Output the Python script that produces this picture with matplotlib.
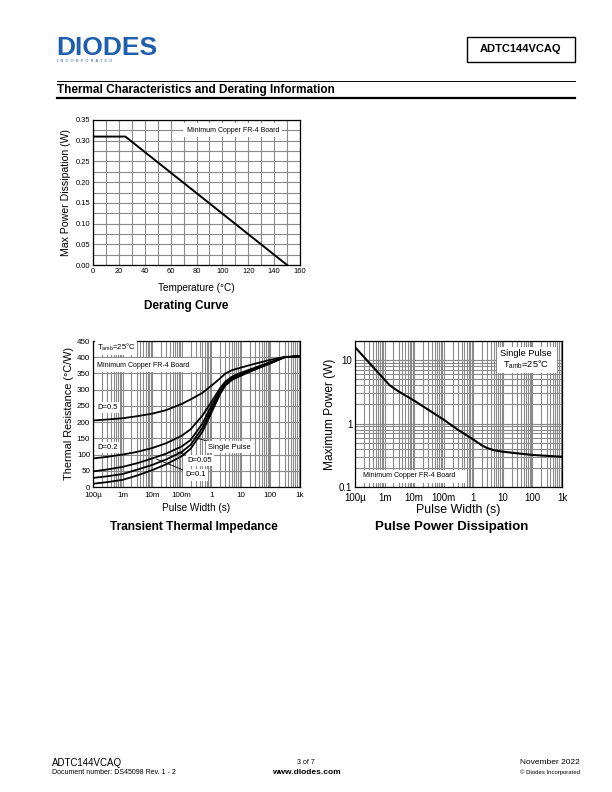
import matplotlib
matplotlib.use('Agg')
import matplotlib.pyplot as plt
import matplotlib.ticker as mticker
from matplotlib.patches import Rectangle
from matplotlib.lines import Line2D

plt.rcParams['font.family'] = ['Liberation Sans', 'DejaVu Sans']
plt.rcParams['mathtext.fontset'] = 'custom'
plt.rcParams['mathtext.rm'] = 'Liberation Sans'

# Datos: curva de derating
temp_c = [0, 25, 150]
pmax_w = [0.31, 0.31, 0.0]

# Datos: impedancia termica transitoria
t_pulse = [1e-4, 3e-4, 1e-3, 3e-3, 1e-2, 3e-2, 0.1, 0.2, 0.5, 1, 2, 3, 5, 10, 30, 100, 300, 1000]
r_d05 = [205, 208, 212, 218, 226, 237, 256, 270, 290, 312, 335, 350, 360, 368, 380, 392, 401, 403]
r_d02 = [88, 93, 100, 108, 120, 135, 158, 178, 220, 262, 305, 325, 340, 352, 368, 385, 400, 403]
r_d01 = [48, 54, 62, 73, 88, 103, 125, 145, 195, 250, 298, 320, 335, 348, 365, 383, 400, 403]
r_d005 = [28, 33, 40, 53, 68, 85, 108, 130, 182, 238, 292, 316, 332, 345, 363, 382, 400, 403]
r_single = [10, 15, 22, 35, 52, 70, 95, 118, 170, 228, 287, 313, 330, 343, 362, 381, 400, 403]

# Datos: disipacion de potencia de pulso
t_pp = [1e-4, 3e-4, 1e-3, 1.5e-3, 3e-3, 1e-2, 3e-2, 0.1, 0.3, 1, 2, 3, 5, 10, 30, 100, 300, 1000]
p_pp = [16, 9.1, 4.9, 4.0, 3.2, 2.3, 1.65, 1.15, 0.8, 0.56, 0.45, 0.41, 0.38, 0.36, 0.34, 0.32, 0.31, 0.30]

log_ticks = [1e-4, 1e-3, 1e-2, 1e-1, 1, 10, 100, 1000]
log_labels = ['100µ', '1m', '10m', '100m', '1', '10', '100', '1k']

W, H = 612, 792
fig = plt.figure(figsize=(W / 100, H / 100), dpi=100)


def box(l, t, r, b):
    return [l / W, 1 - b / H, (r - l) / W, (b - t) / H]


def ftext(x, y, s, **kw):
    fig.text(x / W, 1 - y / H, s, **kw)


GRID = '#8a8a8a'
white = dict(facecolor='white', edgecolor='none', pad=1.5)


def style(ax, fs, xpad=2):
    ax.tick_params(which='both', length=0, labelsize=fs, pad=2)
    ax.tick_params(axis='x', pad=xpad)
    for s in ax.spines.values():
        s.set_linewidth(0.9)
    ax.set_axisbelow(True)


# ---------- Encabezado ----------
ftext(56, 55, 'DIODES', fontsize=19, fontweight='bold', color='#1f5fad', va='baseline')
ftext(57, 60.5, 'I  N  C  O  R  P  O  R  A  T  E  D', fontsize=2.8, color='#1f5fad', va='center')
fig.patches.append(Rectangle((467 / W, 1 - 62 / H), 108 / W, 25 / H, transform=fig.transFigure,
                             fill=False, lw=1.0, edgecolor='black'))
ftext(521, 49.5, 'ADTC144VCAQ', fontsize=8, fontweight='bold', ha='center', va='center')
fig.lines.append(Line2D([57 / W, 575 / W], [1 - 81 / H] * 2, transform=fig.transFigure, color='black', lw=0.7))
fig.lines.append(Line2D([57 / W, 575 / W], [1 - 98 / H] * 2, transform=fig.transFigure, color='black', lw=1.6))
ftext(57, 90, 'Thermal Characteristics and Derating Information', fontsize=8.5, fontweight='bold', va='center')

# ---------- Curva de derating ----------
ax1 = fig.add_axes(box(93, 120, 300, 265))
ax1.plot(temp_c, pmax_w, color='black', lw=1.4)
ax1.set_xlim(0, 160)
ax1.set_ylim(0, 0.35)
ax1.set_xticks(range(0, 161, 20))
ax1.set_xticks(range(0, 161, 10), minor=True)
ax1.set_yticks([i * 0.05 for i in range(8)])
ax1.set_yticks([i * 0.025 for i in range(15)], minor=True)
ax1.yaxis.set_major_formatter(mticker.FormatStrFormatter('%.2f'))
ax1.grid(which='both', color=GRID, lw=0.8)
style(ax1, 5.4)
ax1.text(108, 0.325, 'Minimum Copper FR-4 Board', fontsize=5, ha='center', va='center',
         bbox=dict(facecolor='white', edgecolor='none', pad=2.5))
ax1.set_xlabel('Temperature (°C)', fontsize=7.2, labelpad=6)
ax1.set_ylabel('Max Power Dissipation (W)', fontsize=7.6, labelpad=3)
ftext(186, 306, 'Derating Curve', fontsize=8.5, fontweight='bold', ha='center', va='center')

# ---------- Impedancia termica transitoria ----------
ax2 = fig.add_axes(box(93, 341, 300, 487))
for r in [r_d05, r_d02, r_d01, r_d005, r_single]:
    ax2.plot(t_pulse, r, color='black', lw=1.3)
ax2.set_xscale('log')
ax2.set_xlim(1e-4, 1e3)
ax2.set_ylim(0, 450)
ax2.set_yticks(range(0, 451, 50))
ax2.set_xticks(log_ticks)
ax2.set_xticklabels(log_labels)
ax2.xaxis.set_minor_locator(mticker.LogLocator(base=10, subs=range(2, 10), numticks=20))
ax2.xaxis.set_minor_formatter(mticker.NullFormatter())
ax2.grid(which='both', axis='x', color=GRID, lw=0.8)
ax2.grid(which='major', axis='y', color=GRID, lw=0.8)
style(ax2, 5.8, xpad=3.5)
ax2.text(1.35e-4, 431, r'T$_{\mathrm{amb}}$=25°C', fontsize=5.5, va='center', bbox=white)
ax2.add_patch(Rectangle((0.01, 0.79), 0.515, 0.095, transform=ax2.transAxes,
                        facecolor='white', edgecolor='none', zorder=1.5))
ax2.text(1.35e-4, 376, 'Minimum Copper FR-4 Board', fontsize=5, va='center')
ax2.text(1.4e-4, 246, 'D=0.5', fontsize=5.5, va='center', bbox=white)
ax2.text(1.4e-4, 123, 'D=0.2', fontsize=5.5, va='center', bbox=white)
ax2.annotate('Single Pulse', xy=(0.28, 152), xytext=(0.8, 123), fontsize=5.5, va='center',
             bbox=dict(facecolor='white', edgecolor='none', pad=2),
             arrowprops=dict(arrowstyle='-', lw=0.6, color='black', shrinkA=0, shrinkB=0))
ax2.annotate('D=0.05', xy=(0.07, 108), xytext=(0.16, 83), fontsize=5.5, va='center',
             bbox=white, arrowprops=dict(arrowstyle='-', lw=0.6, color='black', shrinkA=0, shrinkB=0))
ax2.annotate('D=0.1', xy=(0.014, 86), xytext=(0.13, 37), fontsize=5.5, va='center',
             bbox=white, arrowprops=dict(arrowstyle='-', lw=0.6, color='black', shrinkA=0, shrinkB=0))
ax2.set_xlabel('Pulse Width (s)', fontsize=7.2, labelpad=3)
ax2.set_ylabel('Thermal Resistance (°C/W)', fontsize=7.8, labelpad=2)
ftext(194, 527, 'Transient Thermal Impedance', fontsize=8.6, fontweight='bold', ha='center', va='center')

# ---------- Disipacion de potencia de pulso ----------
ax3 = fig.add_axes(box(355, 341, 562, 487))
ax3.plot(t_pp, p_pp, color='black', lw=1.5)
ax3.set_xscale('log')
ax3.set_yscale('log')
ax3.set_xlim(1e-4, 1e3)
ax3.set_ylim(0.1, 20)
ax3.set_xticks(log_ticks)
ax3.set_xticklabels(log_labels)
ax3.set_yticks([0.1, 1, 10])
ax3.set_yticklabels(['0.1', '1', '10'])
ax3.xaxis.set_minor_locator(mticker.LogLocator(base=10, subs=range(2, 10), numticks=20))
ax3.yaxis.set_minor_locator(mticker.LogLocator(base=10, subs=range(2, 10), numticks=20))
ax3.xaxis.set_minor_formatter(mticker.NullFormatter())
ax3.yaxis.set_minor_formatter(mticker.NullFormatter())
ax3.grid(which='both', color=GRID, lw=0.8)
style(ax3, 7, xpad=4)
ax3.text(60, 12.5, 'Single Pulse', fontsize=6.7, ha='center', va='center')
ax3.text(60, 8.6, r'T$_{\mathrm{amb}}$=25°C', fontsize=6.7, ha='center', va='center')
ax3.add_patch(Rectangle((0.688, 0.78), 0.29, 0.18, transform=ax3.transAxes,
                        facecolor='white', edgecolor='none', zorder=1.5))
ax3.add_patch(Rectangle((0.01, 0.03), 0.53, 0.085, transform=ax3.transAxes,
                        facecolor='white', edgecolor='none', zorder=1.5))
ax3.text(1.9e-4, 0.152, 'Minimum Copper FR-4 Board', fontsize=5, va='center')
ax3.set_xlabel('Pulse Width (s)', fontsize=8.9, labelpad=1)
ax3.set_ylabel('Maximum Power (W)', fontsize=8.6, labelpad=2)
ftext(452, 527, 'Pulse Power Dissipation', fontsize=9.5, fontweight='bold', ha='center', va='center')

# ---------- Pie de pagina ----------
ftext(52, 763, 'ADTC144VCAQ', fontsize=7, va='center')
ftext(52, 773, 'Document number: DS45098 Rev. 1 - 2', fontsize=5, va='center')
ftext(306, 763, '3 of 7', fontsize=5, ha='center', va='center')
ftext(306, 772.5, 'www.diodes.com', fontsize=6, fontweight='bold', ha='center', va='center')
ftext(580, 763, 'November 2022', fontsize=6, ha='right', va='center')
ftext(580, 772, '© Diodes Incorporated', fontsize=4.3, ha='right', va='center')

fig.savefig('out.png', dpi=100)
